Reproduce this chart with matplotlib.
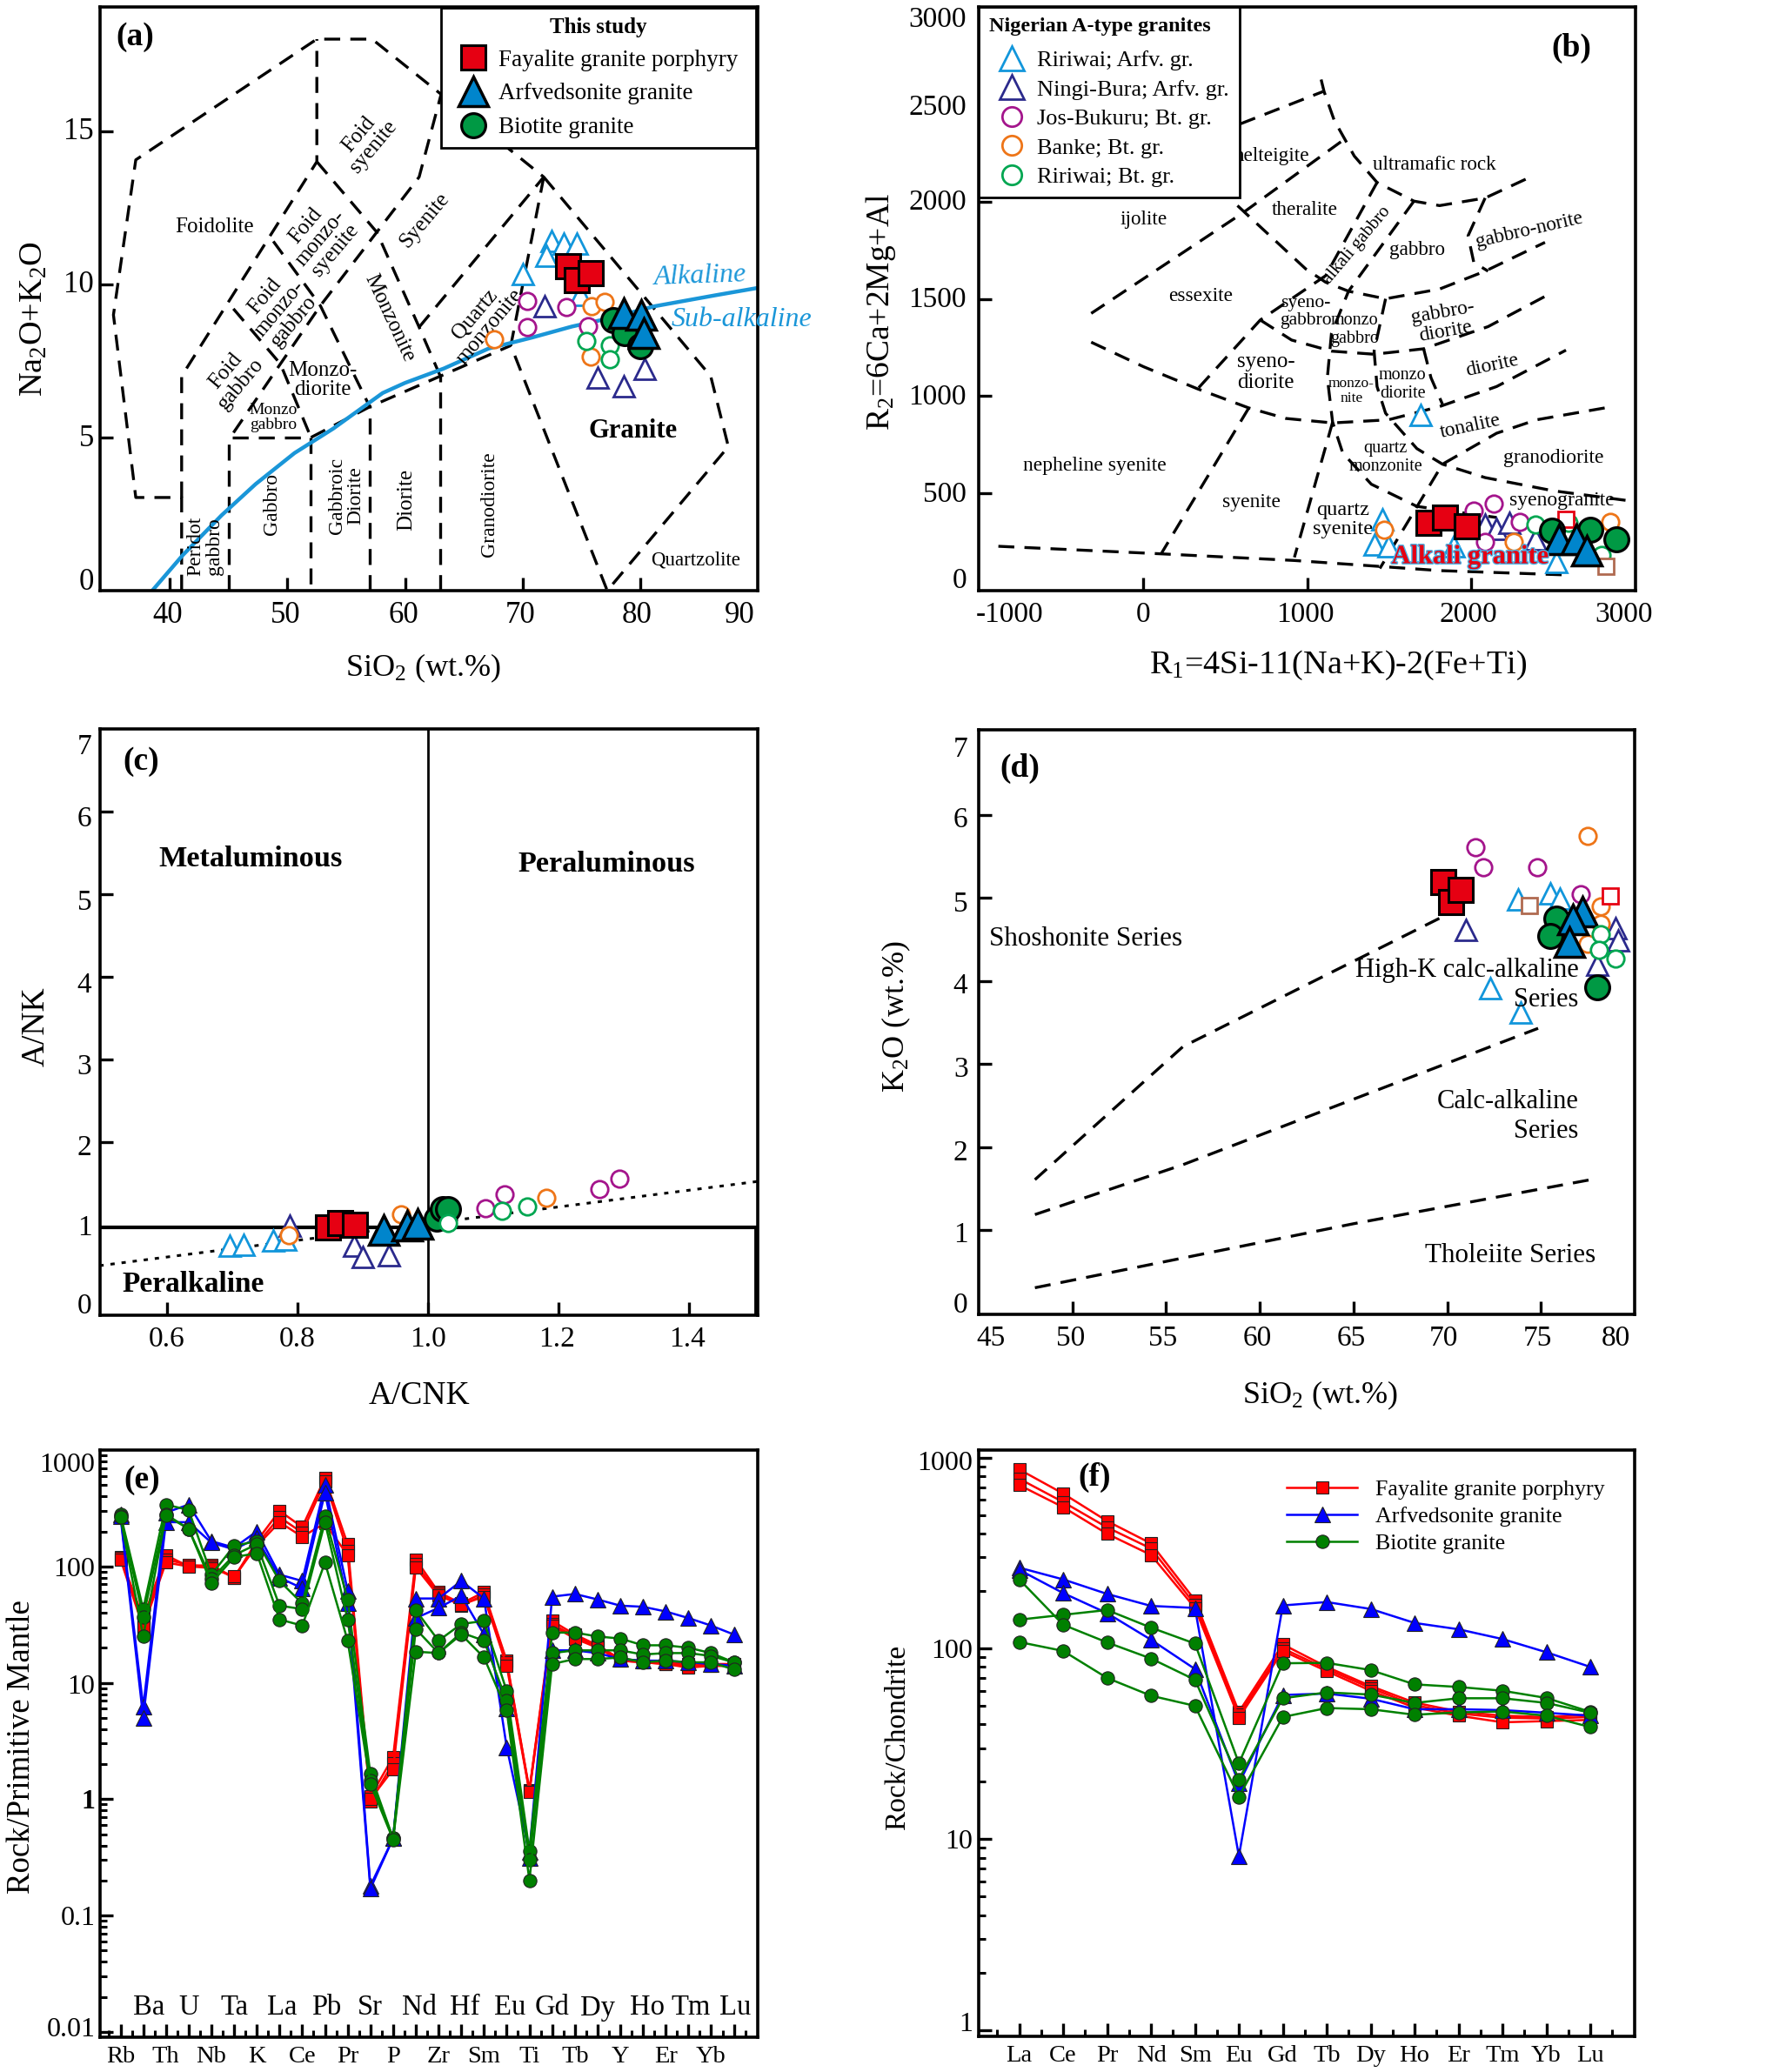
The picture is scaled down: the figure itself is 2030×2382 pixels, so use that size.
import matplotlib
matplotlib.use("Agg")
import matplotlib.pyplot as plt
import matplotlib.patheffects as pe
from matplotlib.transforms import ScaledTranslation

plt.rcParams['font.family'] = ['Liberation Serif', 'DejaVu Serif']
plt.rcParams['mathtext.fontset'] = 'custom'
plt.rcParams['mathtext.rm'] = 'Liberation Serif'
plt.rcParams['mathtext.it'] = 'Liberation Serif:italic'
plt.rcParams['mathtext.bf'] = 'Liberation Serif:bold'

W, H = 2031, 2382
fig = plt.figure(figsize=(W / 100, H / 100), dpi=100)

# ---- colours
RED, BLUE, GREEN = '#e60012', '#0085cc', '#009944'
LBLUE, NAVY, PURPLE, ORANGE, OGREEN, BROWN = '#1296db', '#2b2a8c', '#a4158c', '#ee7518', '#00a651', '#b06a50'
CURVE = '#1a96d8'

# ---- panel (a) TAS
a_ra_x = [72.5, 73.5, 74.6, 72.0, 70.05, 74.9]
a_ra_y = [11.42, 11.33, 11.33, 10.94, 10.32, 9.64]
a_nb_x = [71.9, 76.4, 78.6, 80.4]
a_nb_y = [9.28, 6.96, 6.67, 7.25]
a_jb_x = [70.4, 73.7, 70.4, 75.6]
a_jb_y = [9.46, 9.25, 8.59, 8.62]
a_bk_x = [67.6, 75.9, 77.0, 75.8]
a_bk_y = [8.2, 9.28, 9.42, 7.64]
a_rb_x = [75.4, 77.4, 77.4]
a_rb_y = [8.16, 8.01, 7.54]
a_fay_x = [73.9, 74.6, 75.8]
a_fay_y = [10.6, 10.14, 10.35]
a_arf_x = [78.6, 80.1, 80.3]
a_arf_y = [9.06, 8.99, 8.4]
a_bio_x = [77.7, 78.7, 80.0]
a_bio_y = [8.84, 8.4, 7.97]

alk_x = [38.5, 41.1, 44.4, 47.3, 50.6, 53.9, 58.1, 60, 63.3, 67.1, 70.8, 74.2, 77.5, 81.2, 86.4, 90]
alk_y = [0, 1.16, 2.46, 3.48, 4.49, 5.29, 6.45, 6.78, 7.25, 7.9, 8.26, 8.62, 8.9, 9.28, 9.64, 9.88]

tas_lines = [
    [(41, 0), (41, 3.04), (37.1, 3.04), (35.2, 9), (37.1, 14.06), (52.5, 18), (57.2, 18), (63.07, 16.2),
     (61.2, 13.5), (57.6, 11.7), (52.8, 9.3), (49.4, 7.4), (45.4, 5.15)],
    [(41, 3.04), (41, 7), (52.5, 14), (52.5, 18)],
    [(52.5, 14), (57.6, 11.7), (61.2, 8.6), (63, 7)],
    [(61.2, 8.6), (71.8, 13.5), (63.07, 16.2)],
    [(71.8, 13.5), (69, 8), (77.2, 0), (87.5, 4.7), (86, 7), (71.8, 13.5)],
    [(48.8, 11.4), (52.8, 9.3), (57, 6)],
    [(45.4, 9.2), (49.4, 7.4), (52, 5)],
    [(45, 0), (45, 5), (52, 5), (52, 0)],
    [(52, 5), (57, 6), (63, 7), (69, 8)],
    [(57, 0), (57, 6)],
    [(63, 0), (63, 7)],
]

# ---- panel (b) R1-R2
b_ra_x = [1691, 1458, 1406, 1493, 1892, 2517]
b_ra_y = [901, 365, 239, 228, 228, 148]
b_nb_x = [2083, 2153, 2229, 2389]
b_nb_y = [342, 319, 347, 262]
b_jb_x = [2014, 2135, 2083, 2292]
b_jb_y = [410, 445, 251, 353]
b_bk_x = [1469, 2257, 2847]
b_bk_y = [315, 251, 353]
b_rb_x = [2392, 2594, 2792]
b_rb_y = [342, 347, 182]
b_redsq_x = [2576]
b_redsq_y = [365]
b_brsq_x = [2819]
b_brsq_y = [125]
b_fay_x = [1736, 1840, 1969]
b_fay_y = [347, 376, 331]
b_arf_x = [2535, 2639, 2701]
b_arf_y = [262, 262, 205]
b_bio_x = [2489, 2725, 2882]
b_bio_y = [308, 315, 262]

r_lines = [
    [(590, 2399), (1094, 2565)],
    [(1083, 2627), (1101, 2565), (1163, 2417), (1285, 2234), (1424, 2098), (1649, 2002), (1805, 1979),
     (2083, 2018), (2344, 2120)],
    [(-319, 1425), (608, 1943), (1215, 2314)],
    [(573, 1979), (625, 1938), (990, 1653), (1111, 1585), (1250, 1539), (1476, 1500), (1805, 1550),
     (2083, 1642), (2448, 1790)],
    [(1424, 2098), (1111, 1619), (712, 1391), (330, 1037)],
    [(1649, 2002), (1250, 1539), (1146, 1322), (1121, 1094), (1153, 866), (1215, 707), (1389, 547),
     (1667, 433), (2153, 376)],
    [(1476, 1500), (1406, 1231), (1424, 1049), (1476, 912), (1667, 730), (1823, 650), (2083, 581),
     (2500, 513), (2969, 461)],
    [(712, 1391), (903, 1288), (1146, 1231), (1406, 1215), (1708, 1243), (2101, 1357), (2483, 1528)],
    [(1708, 1243), (1753, 1094), (1823, 958)],
    [(-319, 1277), (0, 1151), (330, 1037), (642, 939), (868, 885), (1153, 862), (1493, 878), (1805, 946),
     (2153, 1049), (2576, 1236)],
    [(642, 939), (111, 194)],
    [(1153, 866), (920, 171)],
    [(2812, 939), (2396, 878), (2153, 809), (1823, 650), (1441, 114)],
    [(-885, 228), (111, 189), (920, 155), (1805, 103), (2604, 80)],
    [(2083, 2018), (1979, 1824), (2014, 1687), (2101, 1642)],
]

# ---- panel (c) A/CNK-A/NK
c_ra_x = [0.697, 0.718, 0.763, 0.782]
c_ra_y = [0.74, 0.75, 0.81, 0.82]
c_nb_x = [0.789, 0.887, 0.901, 0.941]
c_nb_y = [0.98, 0.74, 0.61, 0.63]
c_jb_x = [1.089, 1.118, 1.263, 1.294]
c_jb_y = [1.2, 1.36, 1.43, 1.55]
c_bk_x = [0.787, 0.959, 1.182]
c_bk_y = [0.87, 1.12, 1.32]
c_rb_x = [1.031, 1.114, 1.152]
c_rb_y = [1.02, 1.16, 1.22]
c_fay_x = [0.847, 0.866, 0.888]
c_fay_y = [0.96, 1.02, 1.0]
c_arf_x = [0.933, 0.969, 0.984]
c_arf_y = [0.93, 0.98, 1.01]
c_bio_x = [1.014, 1.023, 1.031]
c_bio_y = [1.07, 1.19, 1.19]

# ---- panel (d) SiO2-K2O
d_ra_x = [73.8, 75.5, 76.0, 72.3, 73.9]
d_ra_y = [4.98, 5.05, 4.99, 3.91, 3.62]
d_nb_x = [71.0, 79.0, 79.1, 78.0]
d_nb_y = [4.61, 4.63, 4.49, 4.2]
d_jb_x = [71.5, 71.9, 74.8, 77.1]
d_jb_y = [5.61, 5.37, 5.37, 5.04]
d_bk_x = [77.5, 78.2, 78.2, 77.5]
d_bk_y = [5.74, 4.9, 4.69, 4.45]
d_rb_x = [78.2, 78.1, 79.0]
d_rb_y = [4.56, 4.37, 4.27]
d_redsq_x = [78.7]
d_redsq_y = [5.02]
d_brsq_x = [74.4]
d_brsq_y = [4.91]
d_fay_x = [69.8, 70.2, 70.7]
d_fay_y = [5.19, 4.95, 5.09]
d_arf_x = [77.2, 76.7, 76.5]
d_arf_y = [4.83, 4.74, 4.47]
d_bio_x = [75.8, 75.5, 78.0]
d_bio_y = [4.75, 4.54, 3.92]

k_lines = [
    [(48, 1.61), (55.9, 3.21), (70, 4.8)],
    [(48, 1.19), (55.9, 1.79), (74.85, 3.43)],
    [(48, 0.31), (65, 1.08), (77.9, 1.62)],
]

# ---- panel (e) spider
spider_el = ['Rb', 'Ba', 'Th', 'U', 'Nb', 'Ta', 'K', 'La', 'Ce', 'Pb', 'Pr', 'Sr', 'P', 'Nd',
             'Zr', 'Hf', 'Sm', 'Eu', 'Ti', 'Gd', 'Tb', 'Dy', 'Y', 'Ho', 'Er', 'Tm', 'Yb', 'Lu']
e_red1 = [120, 36, 125, 100, 103, 80, 165, 300, 218, 575, 155, 1.05, 2.3, 115, 60, 48, 60, 15.5, 1.2, 34, 26, 21, 16, 15.5, 15, 14.5, 14.5, 14.5]
e_red2 = [118, 33, 115, 103, 100, 80, 155, 265, 195, 540, 135, 0.95, 2.05, 105, 58, 46, 57, 15, 1.18, 32, 25, 20.5, 15.5, 15, 14.5, 14, 14, 14]
e_red3 = [115, 30, 108, 100, 97, 82, 150, 240, 180, 235, 125, 1.0, 1.8, 98, 56, 47, 55, 14, 1.15, 31, 24, 20, 15.5, 15, 14.5, 13.5, 14, 14]
e_blue1 = [280, 6.2, 290, 340, 165, 145, 200, 85, 75, 500, 62, 0.18, 0.46, 53, 53, 75, 53, 2.8, 0.35, 55, 58, 52, 46, 45, 41, 36, 31, 26]
e_blue2 = [270, 5.0, 240, 240, 160, 140, 175, 80, 65, 430, 48, 0.17, 0.46, 36, 44, 56, 26, 6, 0.31, 19, 19, 18, 16, 15.5, 15.5, 15, 14.5, 14]
e_green1 = [280, 43, 340, 305, 85, 150, 165, 75, 48, 270, 52, 1.65, 0.46, 42, 23, 32, 34, 8.5, 0.36, 27, 27, 25, 24, 21, 21, 20, 18, 15]
e_green2 = [270, 37, 280, 210, 78, 125, 155, 46, 43, 240, 35, 1.45, 0.46, 29, 18, 27, 23, 7, 0.3, 18, 19, 19, 19, 17.5, 18, 18, 17, 15]
e_green3 = [265, 25, 275, 210, 72, 120, 130, 35, 31, 108, 23, 1.35, 0.45, 18.5, 18, 26, 16.5, 5.8, 0.2, 14.5, 16, 16, 16.5, 15, 15.5, 15, 15, 13]

# ---- panel (f) REE
ree_el = ['La', 'Ce', 'Pr', 'Nd', 'Sm', 'Eu', 'Gd', 'Tb', 'Dy', 'Ho', 'Er', 'Tm', 'Yb', 'Lu']
f_red1 = [867, 648, 465, 355, 179, 46.5, 105, 80, 63.5, 52, 46.7, 44.4, 43.7, 45]
f_red2 = [775, 585, 431, 334, 170, 45, 100, 78, 62, 50.4, 45.6, 43.3, 42.9, 43.7]
f_red3 = [718, 550, 399, 309, 163, 43.3, 97, 76, 60, 49, 44.4, 41, 41.6, 42.2]
f_blue1 = [265, 230, 193, 167, 163, 8.15, 168, 175, 161, 136, 126, 112, 95.5, 80]
f_blue2 = [258, 195, 153, 111, 78, 19.6, 57, 58, 54.5, 48, 48, 47.5, 46, 44.4]
f_green1 = [141.5, 150, 159, 128.5, 106, 25, 83.6, 84, 77, 64.8, 62.8, 60, 55, 46.5]
f_green2 = [230, 133, 107.5, 88.5, 68.5, 20.6, 54.8, 58.8, 57.3, 51.8, 54.8, 54.8, 51.8, 46]
f_green3 = [108, 97, 70, 56.5, 50, 16.7, 43.7, 48.7, 48, 44.9, 46.2, 46.7, 44.4, 38.7]


def make_axes(left, right, top, bottom):
    ax = fig.add_axes([left / W, 1 - bottom / H, (right - left) / W, (bottom - top) / H])
    for s in ax.spines.values():
        s.set_linewidth(2.6)
    return ax


def set_ticks(ax, which, pos, labels, shifts=None, hidden=(), size=24, pad=8):
    axis = ax.xaxis if which == 'x' else ax.yaxis
    axis.set_ticks(pos)
    axis.set_ticklabels(labels)
    ax.tick_params(axis=which, which='major', direction='in', length=11, width=2.4, labelsize=size, pad=pad)
    ticks = axis.get_major_ticks()
    for i, tick in enumerate(ticks):
        if i in hidden:
            tick.tick1line.set_visible(False)
        if shifts is not None and shifts[i] != 0:
            d = shifts[i] / 100
            off = ScaledTranslation(d, 0, fig.dpi_scale_trans) if which == 'x' else ScaledTranslation(0, d, fig.dpi_scale_trans)
            tick.label1.set_transform(tick.label1.get_transform() + off)


def labels(ax, xl, xc, yl, yc, size=26, ysize=None):
    ax.set_xlabel(xl, fontsize=size, va='center')
    ax.set_ylabel(yl, fontsize=ysize or size, va='center')
    ax.xaxis.set_label_coords(*xc)
    ax.yaxis.set_label_coords(*yc)


def dashed(ax, lines, lw=2.4):
    for ln in lines:
        ax.plot([p[0] for p in ln], [p[1] for p in ln], color='black', lw=lw, dashes=(5.5, 3.5), zorder=1)


def open_pts(ax, x, y, marker, color, label=None, ms=None, z=3):
    if ms is None:
        ms = {'^': 17, 'o': 14, 's': 13.5}[marker]
    ax.plot(x, y, ls='none', marker=marker, mfc='white', mec=color, ms=ms, mew=2, zorder=z, label=label)


def filled_pts(ax, fx, fy, ax_, ay, bx, by, with_label=False):
    ax.plot(bx, by, ls='none', marker='o', mfc=GREEN, mec='black', ms=20, mew=2.3, zorder=4,
            label='Biotite granite' if with_label else None)
    ax.plot(fx, fy, ls='none', marker='s', mfc=RED, mec='black', ms=19.5, mew=2.2, zorder=4,
            label='Fayalite granite porphyry' if with_label else None)
    ax.plot(ax_, ay, ls='none', marker='^', mfc=BLUE, mec='black', ms=24.5, mew=2.5, zorder=4,
            label='Arfvedsonite granite' if with_label else None)


# ===================== (a)
ax = make_axes(115, 871, 8, 679)
ax.set_xlim(34.06, 90)
ax.set_ylim(0, 19.05)
dashed(ax, tas_lines)
ax.plot(alk_x, alk_y, color=CURVE, lw=3.2, zorder=2)
open_pts(ax, a_ra_x, a_ra_y, '^', LBLUE)
open_pts(ax, a_nb_x, a_nb_y, '^', NAVY)
open_pts(ax, a_jb_x, a_jb_y, 'o', PURPLE)
open_pts(ax, a_bk_x, a_bk_y, 'o', ORANGE)
open_pts(ax, a_rb_x, a_rb_y, 'o', OGREEN)
filled_pts(ax, a_fay_x, a_fay_y, a_arf_x, a_arf_y, a_bio_x, a_bio_y, with_label=True)
set_ticks(ax, 'x', [40, 50, 60, 70, 80, 90], ['40', '50', '60', '70', '80', '90'],
          shifts=[-3, -2, -2, -3, -4, -21], hidden=(5,), size=25, pad=9)
set_ticks(ax, 'y', [0, 5, 10, 15], ['0', '5', '10', '15'], shifts=[14, 2, 3, 3], hidden=(0,), size=25, pad=5)
labels(ax, 'SiO$_2$ (wt.%)', (0.491, -0.133), 'Na$_2$O+K$_2$O', (-0.1, 0.465), ysize=27.5)
for txt, x, y, rot, sz in [
    ('Foid\nsyenite', 56.7, 14.7, 50, 18), ('Foidolite', 43.8, 11.88, 0, 18),
    ('Foid\nmonzo-\nsyenite', 52.8, 11.5, 50, 18), ('Syenite', 61.65, 12.1, 50, 18),
    ('Foid\nmonzo-\ngabbro', 49.3, 9.2, 50, 18), ('Monzonite', 58.7, 8.9, -65, 18),
    ('Quartz\nmonzonite', 66.6, 8.8, 50, 18), ('Foid\ngabbro', 45.4, 6.96, 50, 18),
    ('Monzo-\ndiorite', 53, 6.88, 0, 18), ('Monzo\ngabbro', 48.8, 5.65, 0, 14),
    ('Peridot\ngabbro', 43, 1.45, 90, 17), ('Gabbro', 48.7, 2.83, 90, 17),
    ('Gabbroic\nDiorite', 55, 3.1, 90, 17), ('Diorite', 60.1, 2.97, 90, 18),
    ('Granodiorite', 67.2, 2.83, 90, 17), ('Quartzolite', 84.7, 0.98, 0, 16.5)]:
    ax.text(x, y, txt, rotation=rot, fontsize=sz, ha='center', va='center', rotation_mode='anchor',
            linespacing=1.0, zorder=2.5)
ax.text(79.4, 5.2, 'Granite', fontsize=22, fontweight='bold', ha='center', va='center')
ax.text(85.1, 10.26, 'Alkaline', fontsize=23, style='italic', color=CURVE, ha='center', va='center', rotation=2)
ax.text(88.6, 8.84, 'Sub-alkaline', fontsize=23, style='italic', color=CURVE, ha='center', va='center')
ax.text(35.4, 18.06, '(a)', fontsize=27, fontweight='bold', ha='left', va='center')
h, l = ax.get_legend_handles_labels()
order = [1, 2, 0]
leg = ax.legend([h[i] for i in order], [l[i] for i in order], loc='upper left', bbox_to_anchor=(0.5185, 0.9985, 0.479, 0),
                mode='expand', borderaxespad=0, fontsize=19.5, fancybox=False, framealpha=1, edgecolor='black',
                title='This study', title_fontproperties={'weight': 'bold', 'size': 18}, labelspacing=0.5,
                handlelength=1.9, handletextpad=0.1, borderpad=0.42)
leg.get_frame().set_linewidth(2)

# ===================== (b)
ax = make_axes(1125, 1880, 8, 679)
ax.set_xlim(-1005, 3000)
ax.set_ylim(0, 3000)
dashed(ax, r_lines)
open_pts(ax, b_ra_x, b_ra_y, '^', LBLUE, 'Ririwai; Arfv. gr.')
open_pts(ax, b_nb_x, b_nb_y, '^', NAVY, 'Ningi-Bura; Arfv. gr.')
open_pts(ax, b_jb_x, b_jb_y, 'o', PURPLE, 'Jos-Bukuru; Bt. gr.')
open_pts(ax, b_bk_x, b_bk_y, 'o', ORANGE, 'Banke; Bt. gr.')
open_pts(ax, b_rb_x, b_rb_y, 'o', OGREEN, 'Ririwai; Bt. gr.')
open_pts(ax, b_redsq_x, b_redsq_y, 's', RED)
open_pts(ax, b_brsq_x, b_brsq_y, 's', BROWN)
filled_pts(ax, b_fay_x, b_fay_y, b_arf_x, b_arf_y, b_bio_x, b_bio_y)
set_ticks(ax, 'x', [-1000, 0, 1000, 2000, 3000], ['-1000', '0', '1000', '2000', '3000'],
          shifts=[35, 0, -3, -4, -13], hidden=(0, 4), size=24, pad=9)
set_ticks(ax, 'y', [0, 500, 1000, 1500, 2000, 2500, 3000], ['0', '500', '1000', '1500', '2000', '2500', '3000'],
          shifts=[15, 2, 2, 2, 2, 0, -11], hidden=(0, 6), size=24, pad=10)
labels(ax, 'R$_1$=4Si-11(Na+K)-2(Fe+Ti)', (0.547, -0.128), 'R$_2$=6Ca+2Mg+Al', (-0.149, 0.478), size=27.5, ysize=27)
for txt, x, y, rot, sz in [
    ('ultramafic rock', 1771, 2189, 0, 16.7), ('theralite', 983, 1956, 0, 16.7), ('ijolite', 3, 1908, 0, 16.7),
    ('alkali gabbro', 1302, 1774, 50, 15), ('gabbro', 1667, 1749, 0, 16.7), ('gabbro-norite', 2354, 1854, 13, 16.7),
    ('essexite', 347, 1512, 0, 16.7), ('syeno-\ngabbro', 990, 1432, 0, 15.5), ('monzo\ngabbro', 1285, 1341, 0, 14.5),
    ('gabbro-\ndiorite', 1833, 1379, 10, 17), ('syeno-\ndiorite', 746, 1122, 0, 18),
    ('monzo-\nnite', 1267, 1026, 0, 12.5), ('monzo\ndiorite', 1580, 1060, 0, 14.5), ('diorite', 2128, 1158, 12, 17),
    ('tonalite', 1996, 844, 12, 17), ('granodiorite', 2500, 684, 0, 17), ('quartz\nmonzonite', 1476, 684, 0, 14.5),
    ('nepheline syenite', -295, 643, 0, 17), ('syenite', 660, 456, 0, 17), ('quartz\nsyenite', 1215, 365, 0, 17.5),
    ('syenogranite', 2552, 463, 0, 17)]:
    ax.text(x, y, txt, rotation=rot, fontsize=sz, ha='center', va='center', rotation_mode='anchor',
            linespacing=1.1, zorder=2.5)
ax.text(555, 2234, 'helteigite', fontsize=16.7, ha='left', va='center', zorder=2.5)
ax.text(1992, 174, 'Alkali granite', fontsize=22, fontweight='bold', color=RED, ha='center', va='center', zorder=6,
        path_effects=[pe.withStroke(linewidth=2, foreground='#4cb4e6')])
ax.text(2611, 2790, '(b)', fontsize=27, fontweight='bold', ha='center', va='center')
leg = ax.legend(loc='upper left', borderaxespad=0, fontsize=19, fancybox=False, framealpha=1, edgecolor='black',
                title='Nigerian A-type granites', title_fontproperties={'weight': 'bold', 'size': 17.5},
                labelspacing=0.38, handlelength=2.0, handletextpad=0.1, borderpad=0.45, alignment='left',
                markerscale=1.15)
leg._legend_box.sep = 12
leg.get_frame().set_linewidth(2)

# ===================== (c)
ax = make_axes(115, 871, 838, 1512)
ax.set_xlim(0.498, 1.5055)
ax.set_ylim(-0.1, 7.0)
ax.plot([0.497, 1.505], [0.50, 1.52], color='black', lw=2.2, dashes=(1.6, 2.6), zorder=1)
ax.axhline(0.967, color='black', lw=3, zorder=1.5)
ax.axvline(1.0, color='black', lw=2, zorder=1.5)
ax.plot([1.503, 1.503], [-0.1, 0.967], color='black', lw=3.5, zorder=1.5)
open_pts(ax, c_ra_x, c_ra_y, '^', LBLUE)
open_pts(ax, c_nb_x, c_nb_y, '^', NAVY)
open_pts(ax, c_jb_x, c_jb_y, 'o', PURPLE)
open_pts(ax, c_bk_x, c_bk_y, 'o', ORANGE)
filled_pts(ax, c_fay_x, c_fay_y, c_arf_x, c_arf_y, c_bio_x, c_bio_y)
open_pts(ax, c_rb_x, c_rb_y, 'o', OGREEN, z=5)
set_ticks(ax, 'x', [0.6, 0.8, 1.0, 1.2, 1.4], ['0.6', '0.8', '1.0', '1.2', '1.4'],
          shifts=[0, 0, 0, -2, -2], size=24, pad=9)
set_ticks(ax, 'y', [0, 1, 2, 3, 4, 5, 6, 7], list('01234567'), shifts=[4, -1, -4, -6, -6, -6, -5, -17],
          hidden=(0, 1, 7), size=24, pad=7)
labels(ax, 'A/CNK', (0.485, -0.137), 'A/NK', (-0.098, 0.493), size=27)
ax.text(0.561, 6.61, '(c)', fontsize=27, fontweight='bold', ha='center', va='center')
ax.text(0.729, 5.42, 'Metaluminous', fontsize=24.7, fontweight='bold', ha='center', va='center')
ax.text(1.274, 5.36, 'Peraluminous', fontsize=24.7, fontweight='bold', ha='center', va='center')
ax.text(0.641, 0.27, 'Peralkaline', fontsize=24, fontweight='bold', ha='center', va='center')

# ===================== (d)
ax = make_axes(1125, 1879, 839, 1511)
ax.set_xlim(45, 80)
ax.set_ylim(-0.01, 7.02)
dashed(ax, k_lines)
open_pts(ax, d_ra_x, d_ra_y, '^', LBLUE)
open_pts(ax, d_nb_x, d_nb_y, '^', NAVY)
open_pts(ax, d_jb_x, d_jb_y, 'o', PURPLE)
open_pts(ax, d_bk_x, d_bk_y, 'o', ORANGE)
filled_pts(ax, d_fay_x, d_fay_y, d_arf_x, d_arf_y, d_bio_x, d_bio_y)
open_pts(ax, d_rb_x, d_rb_y, 'o', OGREEN, z=5)
open_pts(ax, d_redsq_x, d_redsq_y, 's', RED)
open_pts(ax, d_brsq_x, d_brsq_y, 's', BROWN)
set_ticks(ax, 'x', [45, 50, 55, 60, 65, 70, 75, 80], ['45', '50', '55', '60', '65', '70', '75', '80'],
          shifts=[14, -2, -4, -3, -3, -4, -4, -22], hidden=(0, 7), size=24, pad=9)
set_ticks(ax, 'y', [0, 1, 2, 3, 4, 5, 6, 7], list('01234567'), shifts=[13, -2, -3, -3, -3, -4, -3, -17],
          hidden=(0, 7), size=24, pad=9)
labels(ax, 'SiO$_2$ (wt.%)', (0.52, -0.139), 'K$_2$O (wt.%)', (-0.126, 0.509), size=26)
ax.text(50.7, 4.5, 'Shoshonite Series', fontsize=22.4, ha='center', va='center')
ax.text(77, 3.95, 'High-K calc-alkaline\nSeries', fontsize=22, ha='right', va='center', multialignment='right', zorder=6)
ax.text(77, 2.37, 'Calc-alkaline\nSeries', fontsize=22, ha='right', va='center', multialignment='right')
ax.text(77.9, 0.70, 'Tholeiite Series', fontsize=22.4, ha='right', va='center')
ax.text(47.2, 6.55, '(d)', fontsize=27, fontweight='bold', ha='center', va='center')


def spider(ax, xs, reds, blues, greens, with_label=False):
    for i, s in enumerate(reds):
        ax.plot(xs, s, color='#ff0000', lw=1.8, marker='s', ms=10, mfc='#ff0000', mec='#222222', mew=0.8, zorder=3,
                label='Fayalite granite porphyry' if (with_label and i == 0) else None)
    for i, s in enumerate(blues):
        ax.plot(xs, s, color='#0000ff', lw=1.8, marker='^', ms=13, mfc='#0000ff', mec='#222222', mew=0.8, zorder=4,
                label='Arfvedsonite granite' if (with_label and i == 0) else None)
    for i, s in enumerate(greens):
        ax.plot(xs, s, color='#008000', lw=1.8, marker='o', ms=11, mfc='#008000', mec='#222222', mew=0.8, zorder=5,
                label='Biotite granite' if (with_label and i == 0) else None)


def cat_minor(ax, n):
    ax.set_xticks([i + 0.5 for i in range(-1, n)], minor=True)
    ax.tick_params(axis='x', which='minor', direction='in', length=6, width=2.2)
    ax.tick_params(axis='y', which='minor', direction='in', length=6, width=2.2)


# ===================== (e)
ax = make_axes(115, 871, 1667, 2342)
pos_e = list(range(len(spider_el)))
spider(ax, pos_e, [e_red1, e_red2, e_red3], [e_blue1, e_blue2], [e_green1, e_green2, e_green3])
ax.set_yscale('log')
ax.set_xlim(-0.9, 28.05)
ax.set_ylim(0.009, 1000)
set_ticks(ax, 'x', pos_e, [s if i % 2 == 0 else '' for i, s in enumerate(spider_el)], size=20.5, pad=7)
set_ticks(ax, 'y', [0.01, 0.1, 1, 10, 100, 1000], ['0.01', '0.1', '1', '10', '100', '1000'],
          shifts=[6, 0, 0, -1, 0, -14], hidden=(5,), size=23, pad=4)
ax.set_yticks([m * d for d in [0.01, 0.1, 1, 10, 100] for m in range(2, 10)], minor=True)
ax.set_yticklabels([], minor=True)
ax.get_yticklabels()[2].set_fontweight('bold')
cat_minor(ax, len(spider_el))
ax.set_xticklabels([], minor=True)
upper_shift = [0.25, 0, 0, 0.1, 0.08, 0, 0.15, 0.15, 0.15, 0, 0, 0.2, 0.1, 0.07]
for k, i in enumerate(range(1, len(spider_el), 2)):
    ax.text(i + upper_shift[k], 0.05, spider_el[i], transform=ax.get_xaxis_transform(), fontsize=23.5,
            ha='center', va='center')
labels(ax, '', (0.5, -0.1), 'Rock/Primitive Mantle', (-0.119, 0.494), ysize=26.5)
ax.text(0.93, 550, '(e)', fontsize=27, fontweight='bold', ha='center', va='center')

# ===================== (f)
ax = make_axes(1125, 1879, 1667, 2341)
pos_f = list(range(len(ree_el)))
spider(ax, pos_f, [f_red1, f_red2, f_red3], [f_blue1, f_blue2], [f_green1, f_green2, f_green3], with_label=True)
ax.set_yscale('log')
ax.set_xlim(-0.924, 14.01)
ax.set_ylim(0.926, 1096)
set_ticks(ax, 'x', pos_f, ree_el, size=20.5, pad=7)
set_ticks(ax, 'y', [1, 10, 100, 1000], ['1', '10', '100', '1000'], shifts=[10, 0, 0, -3], size=23, pad=5)
ax.set_yticks([m * d for d in [1, 10, 100] for m in range(2, 10)], minor=True)
ax.set_yticklabels([], minor=True)
cat_minor(ax, len(ree_el))
ax.set_xticklabels([], minor=True)
labels(ax, '', (0.5, -0.1), 'Rock/Chondrite', (-0.123, 0.51), ysize=24)
ax.text(1.72, 790, '(f)', fontsize=27, fontweight='bold', ha='center', va='center')
leg = ax.legend(loc='upper left', bbox_to_anchor=(0.47, 0.95), frameon=False, fontsize=18.7, labelspacing=0.3,
                handlelength=3.1, handletextpad=0.8, borderpad=0, borderaxespad=0)

fig.savefig('out.png', dpi=100)
